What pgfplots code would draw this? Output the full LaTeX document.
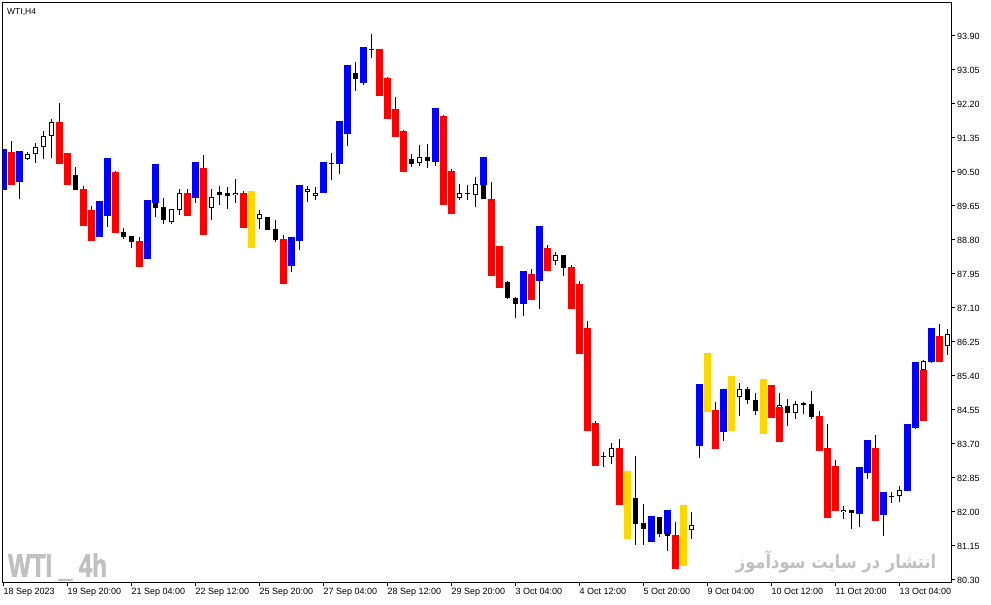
\documentclass[border=0pt]{standalone}
\usepackage{pgfplots}
\pgfplotsset{compat=1.18}
\usepackage{pgfplotstable}
\usepackage{fontspec}
\setmainfont{Liberation Sans}
\newfontfamily\arabicfont[Script=Arabic]{DejaVu Sans}
\newfontfamily\wmfont[FakeBold=2.5]{Liberation Sans Bold}
\TeXXeTstate=1

\definecolor{cblue}{RGB}{0,0,255}
\definecolor{cred}{RGB}{255,0,0}
\definecolor{cyel}{RGB}{255,215,0}
\definecolor{wmark}{RGB}{192,192,192}

% slot index, low, high (WTI H4 bars)
\pgfplotstableread{
x lo hi
1 90.05 91.075
2 90.175 91.275
3 89.833 91.025
4 90.8 91.0
5 90.7325 91.225
6 90.8325 91.525
7 90.8575 91.825
8 90.7075 92.225
9 90.175 90.975
10 90.0575 90.625
11 89.1575 90.1425
12 88.7825 89.65
13 88.8825 89.775
14 89.1325 90.85
15 88.9825 90.5325
16 88.8325 89.1
17 88.6075 88.9
18 88.1325 88.875
19 88.325 89.8
20 89.3825 90.7
21 89.2075 89.85
22 89.2075 89.575
23 89.4325 90.075
24 89.4075 90.075
25 89.7325 90.75
26 88.9325 90.925
27 89.3075 90.075
28 89.6825 90.15
29 89.5825 90.125
30 89.7325 90.325
31 89.1075 90.025
32 88.6075 90.025
33 89.075 89.55
34 89.05 89.375
35 88.75 89.3
36 87.7 88.925
37 88.0 88.875
38 88.55 90.175
39 89.75 90.15
40 89.8 90.125
41 89.975 90.75
42 90.3 90.975
43 90.45 91.775
44 91.15 93.175
45 92.525 93.25
46 92.675 93.625
47 93.35 93.95
48 92.4 93.575
49 91.825 92.875
50 91.375 92.375
51 90.5 91.5575
52 90.6325 90.95
53 90.65 91.175
54 90.6075 91.2
55 90.6575 92.1
56 89.675 91.925
57 89.45 90.575
58 89.8 90.2
59 89.8 90.175
60 89.625 90.375
61 89.825 90.875
62 87.9 90.25
63 87.6 88.65
64 87.325 87.775
65 86.85 87.375
66 86.9 88.025
67 87.3 88.075
68 87.075 89.15
69 88.025 88.675
70 88.175 88.5
71 87.9 88.425
72 87.075 88.175
73 85.9575 87.775
74 84.0325 86.775
75 83.1575 84.275
76 83.1325 83.5075
77 83.2075 83.725
78 82.1825 83.825
79 81.3325 83.025
80 81.1825 83.4
81 81.1825 82.2
82 81.2575 81.9
83 81.3825 81.875
84 81.0325 82.05
85 80.5825 81.75
86 80.6575 82.175
87 81.3325 82.0
88 83.3575 85.2
89 84.5075 85.975
90 83.5825 84.75
91 83.7825 85.075
92 84.0325 85.4
93 84.4075 85.225
94 84.7075 85.125
95 84.4325 84.975
96 83.9575 85.325
97 84.3575 85.175
98 83.7575 84.975
99 84.1575 84.825
100 84.3325 84.775
101 84.4575 84.75
102 84.3325 85.025
103 83.5325 84.525
104 81.8575 84.2
105 82.0325 83.3
106 81.8325 82.15
107 81.5825 82.05
108 81.6325 83.125
109 82.8325 83.8
110 81.7825 83.925
111 81.4075 82.5
112 82.2325 82.5
113 82.2575 82.65
114 82.5325 84.2
115 84.075 85.75
116 84.2825 85.8
117 85.7325 86.6
118 85.7575 86.7
119 85.9325 86.575
}\wicks

\pgfplotstableread{
x lo hi
4 90.8325 90.9425
5 90.9425 91.1175
6 91.1175 91.3925
7 91.3925 91.7425
22 89.2575 89.575
23 89.5425 89.975
27 89.5925 89.875
30 89.9175 89.9675
33 89.3175 89.4425
39 90.0075 90.075
40 89.9075 89.975
53 90.7175 90.875
58 89.8575 89.975
60 89.9325 90.2
70 88.2825 88.425
77 83.3675 83.5925
87 81.5425 81.675
93 84.8675 85.075
98 84.625 84.675
100 84.4675 84.7
106 81.9925 82.05
113 82.3925 82.5425
116 85.5425 85.775
119 86.1425 86.45
}\whitebody

\pgfplotstableread{
x lo hi
10 90.0575 90.425
16 88.8825 89.0
17 88.7575 88.9
20 89.6075 89.725
21 89.3075 89.625
28 89.9325 90.0
29 89.9075 89.975
34 89.05 89.375
35 88.8 89.075
42 90.705 90.73
45 92.825 92.975
47 93.555 93.58
52 90.7075 90.825
54 90.7825 90.875
59 89.945 89.97
61 89.825 90.175
64 87.35 87.75
65 87.2 87.35
71 88.1075 88.425
76 83.37 83.395
80 81.7075 82.35
81 81.5825 81.725
83 81.4575 81.875
84 81.40 81.4575
94 84.7875 85.075
95 84.5325 84.8
99 84.4825 84.65
101 84.6825 84.7175
102 84.3825 84.7
107 81.9825 82.05
112 82.3675 82.3925
}\blackbody

\pgfplotstableread{
x lo hi
1 90.05 91.075
3 90.25 91.025
13 88.8825 89.775
14 89.4075 90.85
19 88.325 89.8
20 89.725 90.7
25 89.8575 90.75
37 88.15 88.875
38 88.775 90.175
41 89.975 90.75
43 90.7 91.775
44 91.45 93.175
46 92.725 93.625
55 90.75 92.1
61 90.175 90.875
66 87.2 88.025
68 87.775 89.15
82 81.2575 81.9
84 81.4575 82.05
88 83.6575 85.2
91 84.0075 85.075
108 81.9575 83.125
109 82.9825 83.8
111 81.9325 82.5
114 82.5325 84.2
115 84.1075 85.75
117 85.7575 86.6
}\bluebars

\pgfplotstableread{
x lo hi
2 90.175 91.0
8 90.7075 91.75
9 90.175 90.975
11 89.1575 90.075
12 88.7825 89.55
15 88.9825 90.5
18 88.1325 88.775
24 89.4075 89.975
26 88.9325 90.6
31 89.1075 89.975
36 87.7 88.825
48 92.4 93.575
49 91.825 92.85
50 91.375 92.075
51 90.5 91.525
56 89.675 91.9
57 89.45 90.525
62 87.9 89.825
63 87.6 88.65
67 87.3 87.95
69 88.025 88.6
72 87.075 88.125
73 85.9575 87.7
74 84.0325 86.6
75 83.1575 84.225
78 82.1825 83.6
85 80.5825 81.425
90 83.5825 84.55
97 84.3575 85.175
98 83.7575 84.625
103 83.5325 84.4
104 81.8575 83.6
105 82.0325 83.15
110 81.7825 83.6
116 84.2825 85.55
118 85.7575 86.4
}\redbars

\pgfplotstableread{
x lo hi
32 88.6075 90.025
79 81.3325 83.025
86 80.6575 82.175
89 84.5075 85.975
92 84.0325 85.4
96 83.9575 85.325
}\yellowbars

\pgfplotsset{
  candle/.style 2 args={draw=none, mark=none, forget plot,
    error bars/.cd, y dir=plus, y explicit, error mark=none,
    error bar style={draw=#1, line width=#2}},
  hollowin/.style={draw=none, mark=none, forget plot,
    error bars/.cd, y dir=plus, y explicit, error mark=none,
    error bar style={draw=white, line width=3pt, shorten <=0.9pt, shorten >=0.9pt}},
}

\begin{document}
\begin{tikzpicture}
\begin{axis}[
  scale only axis,
  width=948.3pt, height=580.5pt,
  xmin=0.9, xmax=119.4375,
  ymin=80.225, ymax=94.7375,
  axis line style={line width=1pt},
  tick align=outside,
  major tick length=3.5pt,
  tick style={black, line width=1pt},
  xtick pos=bottom, ytick pos=right,
  yticklabel pos=right,
  xtick={1,9,...,113},
  xticklabels={18 Sep 2023,19 Sep 20:00,21 Sep 04:00,22 Sep 12:00,25 Sep 20:00,27 Sep 04:00,28 Sep 12:00,29 Sep 20:00,3 Oct 04:00,4 Oct 12:00,5 Oct 20:00,9 Oct 04:00,10 Oct 12:00,11 Oct 20:00,13 Oct 04:00},
  ytick={80.30,81.15,82.00,82.85,83.70,84.55,85.40,86.25,87.10,87.95,88.80,89.65,90.50,91.35,92.20,93.05,93.90},
  tick label style={font=\fontsize{9}{10}\selectfont},
  xticklabel style={anchor=north west, inner sep=0pt, yshift=-2pt},
  yticklabel style={anchor=west, inner sep=0pt, xshift=2.5pt,
    /pgf/number format/.cd, fixed, fixed zerofill, precision=2, assume math mode=true},
]
\addplot[candle={black}{1pt}] table[x=x, y=lo, y error plus expr=\thisrow{hi}-\thisrow{lo}] {\wicks};
\addplot[candle={black}{5pt}] table[x=x, y=lo, y error plus expr=\thisrow{hi}-\thisrow{lo}] {\blackbody};
\addplot[candle={black}{5pt}] table[x=x, y=lo, y error plus expr=\thisrow{hi}-\thisrow{lo}] {\whitebody};
\addplot[hollowin] table[x=x, y=lo, y error plus expr=\thisrow{hi}-\thisrow{lo}] {\whitebody};
\addplot[candle={cblue}{7pt}] table[x=x, y=lo, y error plus expr=\thisrow{hi}-\thisrow{lo}] {\bluebars};
\addplot[candle={cred}{7pt}] table[x=x, y=lo, y error plus expr=\thisrow{hi}-\thisrow{lo}] {\redbars};
\addplot[candle={cyel}{7pt}] table[x=x, y=lo, y error plus expr=\thisrow{hi}-\thisrow{lo}] {\yellowbars};
\end{axis}
\begin{scope}[shift={(current axis.south west)}, xshift=-2.7pt, yshift=583pt, x=1pt, y=-1pt]
  \node[anchor=base west, inner sep=0pt, font=\fontsize{8.5}{10}\selectfont] at (7,15) {WTI,H4};
  \node[anchor=base west, inner sep=0pt, text=wmark, font=\wmfont\fontsize{32}{34}\selectfont] at (8,576.5) {\scalebox{0.75}[1]{WTI \_ 4h}};
  \node[anchor=base east, inner sep=0pt, text=wmark, font=\fontsize{18.5}{20}\selectfont] at (936.5,569) {\scalebox{0.88}[1]{\arabicfont\bfseries\beginR انتشار در سایت سودآموز\endR}};
  \pgfresetboundingbox
  \path (0,0) rectangle (991,605);
\end{scope}
\end{tikzpicture}
\end{document}
